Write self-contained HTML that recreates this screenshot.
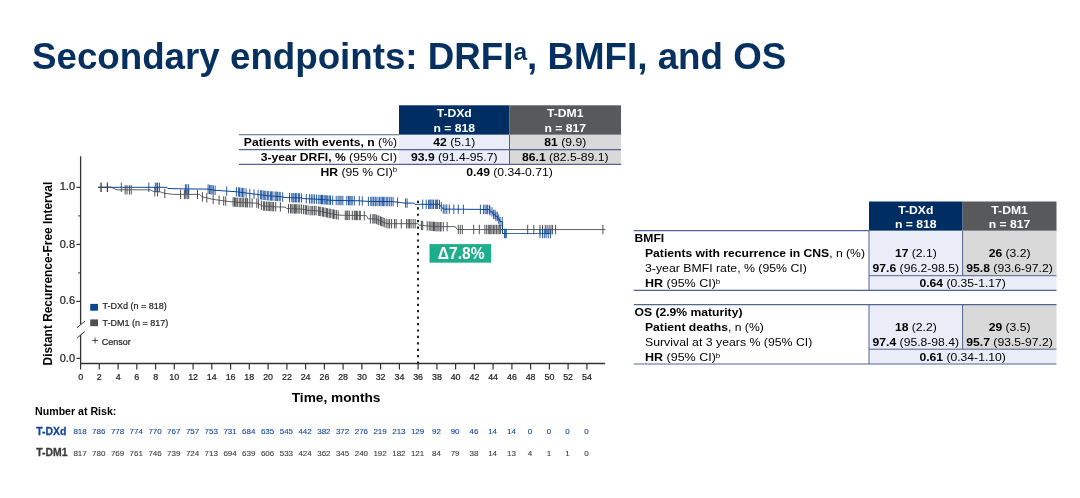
<!DOCTYPE html>
<html lang="en">
<head>
<meta charset="utf-8">
<title>Secondary endpoints: DRFI, BMFI, and OS</title>
<style>
html,body{margin:0;padding:0;background:#fff;}
body{width:1080px;height:498px;overflow:hidden;}
svg{display:block;font-family:"Liberation Sans",Arial,Helvetica,sans-serif;}
</style>
</head>
<body>
<svg width="1080" height="498" viewBox="0 0 1080 498">
<rect width="1080" height="498" fill="#ffffff"/>
<text x="32" y="68.8" font-size="36.72" font-weight="bold" fill="#06305f">Secondary endpoints: DRFI<tspan font-size="24.5" dy="-9.3">a</tspan><tspan dy="9.3">, BMFI, and OS</tspan></text>
<rect x="399" y="105.3" width="110.5" height="29.500000000000014" fill="#002e63"/>
<rect x="509.5" y="105.3" width="111.5" height="29.500000000000014" fill="#58595b"/>
<rect x="399" y="134.8" width="110.5" height="29.599999999999994" fill="#eaedf8"/>
<rect x="509.5" y="134.8" width="111.5" height="29.599999999999994" fill="#d9d9d9"/>
<line x1="239" y1="134.8" x2="399" y2="134.8" stroke="#52648f" stroke-width="1.1"/>
<line x1="239" y1="149.6" x2="621" y2="149.6" stroke="#52648f" stroke-width="1.1"/>
<line x1="239" y1="164.4" x2="621" y2="164.4" stroke="#52648f" stroke-width="1.1"/>
<line x1="509.5" y1="134.8" x2="509.5" y2="164.4" stroke="#52648f" stroke-width="1"/>
<text transform="translate(454.25,117.0) scale(1.105,1)" font-size="11" font-weight="bold" fill="#fff" text-anchor="middle" >T-DXd</text>
<text transform="translate(454.25,132.3) scale(1.105,1)" font-size="11" font-weight="bold" fill="#fff" text-anchor="middle" >n = 818</text>
<text transform="translate(565.25,117.0) scale(1.105,1)" font-size="11" font-weight="bold" fill="#fff" text-anchor="middle" >T-DM1</text>
<text transform="translate(565.25,132.3) scale(1.105,1)" font-size="11" font-weight="bold" fill="#fff" text-anchor="middle" >n = 817</text>
<text transform="translate(397,146.0) scale(1.105,1)" font-size="11" font-weight="normal" fill="#000" text-anchor="end" ><tspan font-weight="bold">Patients with events, n</tspan> (%)</text>
<text transform="translate(397,160.9) scale(1.105,1)" font-size="11" font-weight="normal" fill="#000" text-anchor="end" ><tspan font-weight="bold">3-year DRFI, %</tspan> (95% CI)</text>
<text transform="translate(397,175.8) scale(1.105,1)" font-size="11" font-weight="normal" fill="#000" text-anchor="end" ><tspan font-weight="bold">HR</tspan> (95 % CI)<tspan font-size="7" dy="-3.4">b</tspan></text>
<text transform="translate(454.25,146.0) scale(1.105,1)" font-size="11" font-weight="normal" fill="#000" text-anchor="middle" ><tspan font-weight="bold">42</tspan> (5.1)</text>
<text transform="translate(454.25,160.9) scale(1.105,1)" font-size="11" font-weight="normal" fill="#000" text-anchor="middle" ><tspan font-weight="bold">93.9</tspan> (91.4-95.7)</text>
<text transform="translate(565.25,146.0) scale(1.105,1)" font-size="11" font-weight="normal" fill="#000" text-anchor="middle" ><tspan font-weight="bold">81</tspan> (9.9)</text>
<text transform="translate(565.25,160.9) scale(1.105,1)" font-size="11" font-weight="normal" fill="#000" text-anchor="middle" ><tspan font-weight="bold">86.1</tspan> (82.5-89.1)</text>
<text transform="translate(509.5,175.8) scale(1.105,1)" font-size="11" font-weight="normal" fill="#000" text-anchor="middle" ><tspan font-weight="bold">0.49</tspan> (0.34-0.71)</text>
<path d="M80.6 156.2 V324.3 M80.6 335 V363.5" stroke="#333333" stroke-width="1.3" fill="none"/>
<path d="M76.9 327.7 L84.9 321.2 M76.9 338.2 L84.9 331.4" stroke="#333333" stroke-width="1" fill="none"/>
<line x1="80.0" y1="363.5" x2="605.1" y2="363.5" stroke="#333333" stroke-width="1.55"/>
<line x1="80.6" y1="363.5" x2="80.6" y2="369.5" stroke="#333333" stroke-width="1.2"/>
<text x="80.6" y="380.1" font-size="8.9" font-weight="normal" fill="#1a1a1a" text-anchor="middle" stroke="#1a1a1a" stroke-width="0.2">0</text>
<line x1="99.3" y1="363.5" x2="99.3" y2="369.5" stroke="#333333" stroke-width="1.2"/>
<text x="99.3" y="380.1" font-size="8.9" font-weight="normal" fill="#1a1a1a" text-anchor="middle" stroke="#1a1a1a" stroke-width="0.2">2</text>
<line x1="118.1" y1="363.5" x2="118.1" y2="369.5" stroke="#333333" stroke-width="1.2"/>
<text x="118.1" y="380.1" font-size="8.9" font-weight="normal" fill="#1a1a1a" text-anchor="middle" stroke="#1a1a1a" stroke-width="0.2">4</text>
<line x1="136.8" y1="363.5" x2="136.8" y2="369.5" stroke="#333333" stroke-width="1.2"/>
<text x="136.8" y="380.1" font-size="8.9" font-weight="normal" fill="#1a1a1a" text-anchor="middle" stroke="#1a1a1a" stroke-width="0.2">6</text>
<line x1="155.6" y1="363.5" x2="155.6" y2="369.5" stroke="#333333" stroke-width="1.2"/>
<text x="155.6" y="380.1" font-size="8.9" font-weight="normal" fill="#1a1a1a" text-anchor="middle" stroke="#1a1a1a" stroke-width="0.2">8</text>
<line x1="174.3" y1="363.5" x2="174.3" y2="369.5" stroke="#333333" stroke-width="1.2"/>
<text x="174.3" y="380.1" font-size="8.9" font-weight="normal" fill="#1a1a1a" text-anchor="middle" stroke="#1a1a1a" stroke-width="0.2">10</text>
<line x1="193.1" y1="363.5" x2="193.1" y2="369.5" stroke="#333333" stroke-width="1.2"/>
<text x="193.1" y="380.1" font-size="8.9" font-weight="normal" fill="#1a1a1a" text-anchor="middle" stroke="#1a1a1a" stroke-width="0.2">12</text>
<line x1="211.8" y1="363.5" x2="211.8" y2="369.5" stroke="#333333" stroke-width="1.2"/>
<text x="211.8" y="380.1" font-size="8.9" font-weight="normal" fill="#1a1a1a" text-anchor="middle" stroke="#1a1a1a" stroke-width="0.2">14</text>
<line x1="230.6" y1="363.5" x2="230.6" y2="369.5" stroke="#333333" stroke-width="1.2"/>
<text x="230.6" y="380.1" font-size="8.9" font-weight="normal" fill="#1a1a1a" text-anchor="middle" stroke="#1a1a1a" stroke-width="0.2">16</text>
<line x1="249.3" y1="363.5" x2="249.3" y2="369.5" stroke="#333333" stroke-width="1.2"/>
<text x="249.3" y="380.1" font-size="8.9" font-weight="normal" fill="#1a1a1a" text-anchor="middle" stroke="#1a1a1a" stroke-width="0.2">18</text>
<line x1="268.1" y1="363.5" x2="268.1" y2="369.5" stroke="#333333" stroke-width="1.2"/>
<text x="268.1" y="380.1" font-size="8.9" font-weight="normal" fill="#1a1a1a" text-anchor="middle" stroke="#1a1a1a" stroke-width="0.2">20</text>
<line x1="286.9" y1="363.5" x2="286.9" y2="369.5" stroke="#333333" stroke-width="1.2"/>
<text x="286.9" y="380.1" font-size="8.9" font-weight="normal" fill="#1a1a1a" text-anchor="middle" stroke="#1a1a1a" stroke-width="0.2">22</text>
<line x1="305.6" y1="363.5" x2="305.6" y2="369.5" stroke="#333333" stroke-width="1.2"/>
<text x="305.6" y="380.1" font-size="8.9" font-weight="normal" fill="#1a1a1a" text-anchor="middle" stroke="#1a1a1a" stroke-width="0.2">24</text>
<line x1="324.4" y1="363.5" x2="324.4" y2="369.5" stroke="#333333" stroke-width="1.2"/>
<text x="324.4" y="380.1" font-size="8.9" font-weight="normal" fill="#1a1a1a" text-anchor="middle" stroke="#1a1a1a" stroke-width="0.2">26</text>
<line x1="343.1" y1="363.5" x2="343.1" y2="369.5" stroke="#333333" stroke-width="1.2"/>
<text x="343.1" y="380.1" font-size="8.9" font-weight="normal" fill="#1a1a1a" text-anchor="middle" stroke="#1a1a1a" stroke-width="0.2">28</text>
<line x1="361.9" y1="363.5" x2="361.9" y2="369.5" stroke="#333333" stroke-width="1.2"/>
<text x="361.9" y="380.1" font-size="8.9" font-weight="normal" fill="#1a1a1a" text-anchor="middle" stroke="#1a1a1a" stroke-width="0.2">30</text>
<line x1="380.6" y1="363.5" x2="380.6" y2="369.5" stroke="#333333" stroke-width="1.2"/>
<text x="380.6" y="380.1" font-size="8.9" font-weight="normal" fill="#1a1a1a" text-anchor="middle" stroke="#1a1a1a" stroke-width="0.2">32</text>
<line x1="399.4" y1="363.5" x2="399.4" y2="369.5" stroke="#333333" stroke-width="1.2"/>
<text x="399.4" y="380.1" font-size="8.9" font-weight="normal" fill="#1a1a1a" text-anchor="middle" stroke="#1a1a1a" stroke-width="0.2">34</text>
<line x1="418.1" y1="363.5" x2="418.1" y2="369.5" stroke="#333333" stroke-width="1.2"/>
<text x="418.1" y="380.1" font-size="8.9" font-weight="normal" fill="#1a1a1a" text-anchor="middle" stroke="#1a1a1a" stroke-width="0.2">36</text>
<line x1="436.9" y1="363.5" x2="436.9" y2="369.5" stroke="#333333" stroke-width="1.2"/>
<text x="436.9" y="380.1" font-size="8.9" font-weight="normal" fill="#1a1a1a" text-anchor="middle" stroke="#1a1a1a" stroke-width="0.2">38</text>
<line x1="455.6" y1="363.5" x2="455.6" y2="369.5" stroke="#333333" stroke-width="1.2"/>
<text x="455.6" y="380.1" font-size="8.9" font-weight="normal" fill="#1a1a1a" text-anchor="middle" stroke="#1a1a1a" stroke-width="0.2">40</text>
<line x1="474.4" y1="363.5" x2="474.4" y2="369.5" stroke="#333333" stroke-width="1.2"/>
<text x="474.4" y="380.1" font-size="8.9" font-weight="normal" fill="#1a1a1a" text-anchor="middle" stroke="#1a1a1a" stroke-width="0.2">42</text>
<line x1="493.1" y1="363.5" x2="493.1" y2="369.5" stroke="#333333" stroke-width="1.2"/>
<text x="493.1" y="380.1" font-size="8.9" font-weight="normal" fill="#1a1a1a" text-anchor="middle" stroke="#1a1a1a" stroke-width="0.2">44</text>
<line x1="511.9" y1="363.5" x2="511.9" y2="369.5" stroke="#333333" stroke-width="1.2"/>
<text x="511.9" y="380.1" font-size="8.9" font-weight="normal" fill="#1a1a1a" text-anchor="middle" stroke="#1a1a1a" stroke-width="0.2">46</text>
<line x1="530.6" y1="363.5" x2="530.6" y2="369.5" stroke="#333333" stroke-width="1.2"/>
<text x="530.6" y="380.1" font-size="8.9" font-weight="normal" fill="#1a1a1a" text-anchor="middle" stroke="#1a1a1a" stroke-width="0.2">48</text>
<line x1="549.4" y1="363.5" x2="549.4" y2="369.5" stroke="#333333" stroke-width="1.2"/>
<text x="549.4" y="380.1" font-size="8.9" font-weight="normal" fill="#1a1a1a" text-anchor="middle" stroke="#1a1a1a" stroke-width="0.2">50</text>
<line x1="568.1" y1="363.5" x2="568.1" y2="369.5" stroke="#333333" stroke-width="1.2"/>
<text x="568.1" y="380.1" font-size="8.9" font-weight="normal" fill="#1a1a1a" text-anchor="middle" stroke="#1a1a1a" stroke-width="0.2">52</text>
<line x1="586.9" y1="363.5" x2="586.9" y2="369.5" stroke="#333333" stroke-width="1.2"/>
<text x="586.9" y="380.1" font-size="8.9" font-weight="normal" fill="#1a1a1a" text-anchor="middle" stroke="#1a1a1a" stroke-width="0.2">54</text>
<line x1="76.4" y1="187.4" x2="80.6" y2="187.4" stroke="#333333" stroke-width="1.2"/>
<text transform="translate(75.0,190.0) scale(1.08,1)" font-size="10.2" font-weight="normal" fill="#1a1a1a" text-anchor="end" stroke="#1a1a1a" stroke-width="0.2">1.0</text>
<line x1="76.4" y1="244.4" x2="80.6" y2="244.4" stroke="#333333" stroke-width="1.2"/>
<text transform="translate(75.0,247.7) scale(1.08,1)" font-size="10.2" font-weight="normal" fill="#1a1a1a" text-anchor="end" stroke="#1a1a1a" stroke-width="0.2">0.8</text>
<line x1="76.4" y1="301.4" x2="80.6" y2="301.4" stroke="#333333" stroke-width="1.2"/>
<text transform="translate(75.0,304.4) scale(1.08,1)" font-size="10.2" font-weight="normal" fill="#1a1a1a" text-anchor="end" stroke="#1a1a1a" stroke-width="0.2">0.6</text>
<line x1="78.1" y1="215.9" x2="80.6" y2="215.9" stroke="#333333" stroke-width="1"/>
<line x1="78.1" y1="272.9" x2="80.6" y2="272.9" stroke="#333333" stroke-width="1"/>
<line x1="76.4" y1="358.4" x2="80.6" y2="358.4" stroke="#333333" stroke-width="1.2"/>
<text transform="translate(75.0,361.5) scale(1.08,1)" font-size="10.2" font-weight="normal" fill="#1a1a1a" text-anchor="end" stroke="#1a1a1a" stroke-width="0.2">0.0</text>
<text transform="translate(51.7,273.6) rotate(-90) scale(1,1.10)" font-size="11.9" font-weight="bold" fill="#000" text-anchor="middle">Distant Recurrence-Free Interval</text>
<text transform="translate(336.1,402.2) scale(1.015,1)" font-size="13.5" font-weight="bold" fill="#000" text-anchor="middle" >Time, months</text>
<path d="M98.1 187.3 L111.3 187.3 L116.9 189.8 L150.2 189.8 L153.9 191.7 L160.4 191.9 L164.0 193.2 L173.3 194.4 L199.8 194.4 L202.1 196.8 L212.8 199.3 L223.9 200.9 L236.9 202.3 L257.2 203.2 L262.8 206.0 L277.6 206.9 L285.0 207.1 L287.0 208.6 L301.6 209.1 L310.1 210.6 L316.1 210.6 L338.2 215.1 L345.0 215.3 L366.3 215.6 L368.4 219.0 L375.0 218.8 L387.0 223.7 L418.0 223.7 L419.2 225.2 L437.2 226.7 L455.3 226.6 L457.3 229.5 L605.5 229.6" stroke="#4f5052" stroke-width="0.9" fill="none"/>
<path d="M101.1 182.6v9.4 M125.2 185.1v9.4 M127.0 185.1v9.4 M129.4 185.1v9.4 M131.2 185.1v9.4 M154.8 187.0v9.4 M157.6 187.1v9.4 M164.8 188.6v9.4 M180.6 189.7v9.4 M184.4 189.7v9.4 M185.8 189.7v9.4 M187.2 189.7v9.4 M188.7 189.7v9.4 M197.5 189.7v9.4 M202.4 192.2v9.4 M206.8 193.2v9.4 M213.2 194.7v9.4 M219.1 195.5v9.4 M223.7 196.2v9.4 M225.7 196.4v9.4 M233.1 197.2v9.4 M234.5 197.3v9.4 M235.3 197.4v9.4 M236.9 197.6v9.4 M237.8 197.6v9.4 M239.8 197.7v9.4 M240.8 197.8v9.4 M242.2 197.8v9.4 M243.7 197.9v9.4 M245.4 198.0v9.4 M246.2 198.0v9.4 M247.6 198.1v9.4 M249.8 198.2v9.4 M252.1 198.3v9.4 M256.8 198.5v9.4 M258.6 199.2v9.4 M261.4 200.6v9.4 M263.4 201.3v9.4 M264.6 201.4v9.4 M266.3 201.5v9.4 M267.0 201.6v9.4 M268.8 201.7v9.4 M269.7 201.7v9.4 M270.9 201.8v9.4 M272.2 201.9v9.4 M273.6 202.0v9.4 M275.7 202.1v9.4 M280.4 202.3v9.4 M288.5 204.0v9.4 M290.5 204.0v9.4 M291.9 204.1v9.4 M293.0 204.1v9.4 M294.4 204.2v9.4 M295.4 204.2v9.4 M296.7 204.2v9.4 M298.1 204.3v9.4 M299.8 204.3v9.4 M301.6 204.4v9.4 M303.6 204.8v9.4 M305.3 205.1v9.4 M306.4 205.2v9.4 M308.1 205.5v9.4 M310.1 205.9v9.4 M311.9 205.9v9.4 M312.8 205.9v9.4 M314.6 205.9v9.4 M316.1 205.9v9.4 M318.4 206.4v9.4 M319.7 206.6v9.4 M320.8 206.9v9.4 M322.6 207.2v9.4 M323.4 207.4v9.4 M325.0 207.7v9.4 M326.6 208.0v9.4 M327.6 208.2v9.4 M329.2 208.6v9.4 M330.3 208.8v9.4 M332.1 209.2v9.4 M333.5 209.5v9.4 M334.8 209.7v9.4 M336.4 210.0v9.4 M338.2 210.4v9.4 M345.3 210.6v9.4 M346.8 210.6v9.4 M347.8 210.6v9.4 M349.3 210.7v9.4 M352.3 210.7v9.4 M354.3 210.7v9.4 M355.2 210.7v9.4 M356.5 210.8v9.4 M357.3 210.8v9.4 M359.3 210.8v9.4 M360.3 210.8v9.4 M364.3 210.9v9.4 M370.4 214.2v9.4 M372.8 214.2v9.4 M374.0 214.1v9.4 M375.0 214.1v9.4 M376.4 214.7v9.4 M378.0 215.3v9.4 M378.9 215.7v9.4 M380.5 216.4v9.4 M381.7 216.8v9.4 M383.0 217.4v9.4 M384.3 217.9v9.4 M386.2 218.7v9.4 M388.0 219.0v9.4 M389.6 219.0v9.4 M391.6 219.0v9.4 M394.6 219.0v9.4 M396.1 219.0v9.4 M401.3 219.0v9.4 M406.6 219.0v9.4 M408.2 219.0v9.4 M409.6 219.0v9.4 M411.1 219.0v9.4 M413.2 219.0v9.4 M415.2 219.0v9.4 M421.4 220.7v9.4 M422.7 220.8v9.4 M427.2 221.2v9.4 M429.2 221.3v9.4 M430.8 221.5v9.4 M432.1 221.6v9.4 M433.5 221.7v9.4 M434.4 221.8v9.4 M435.9 221.9v9.4 M437.2 222.0v9.4 M438.9 222.0v9.4 M440.3 222.0v9.4 M441.1 222.0v9.4 M443.3 222.0v9.4 M447.1 221.9v9.4 M458.3 224.8v9.4 M460.3 224.8v9.4 M462.3 224.8v9.4 M473.7 224.8v9.4 M479.3 224.8v9.4 M484.9 224.8v9.4 M486.7 224.8v9.4 M488.3 224.8v9.4 M489.7 224.8v9.4 M490.8 224.8v9.4 M492.0 224.8v9.4 M493.6 224.8v9.4 M494.9 224.8v9.4 M496.4 224.8v9.4 M498.0 224.8v9.4 M499.2 224.8v9.4 M500.4 224.8v9.4 M502.4 224.8v9.4 M527.7 224.8v9.4 M533.8 224.9v9.4 M540.0 224.9v9.4 M542.5 224.9v9.4 M545.3 224.9v9.4 M547.1 224.9v9.4 M549.1 224.9v9.4 M551.0 224.9v9.4 M552.6 224.9v9.4 M555.6 224.9v9.4 M602.9 224.9v9.4" stroke="#4f5052" stroke-width="1.0" fill="none" opacity="1"/>
<path d="M98.1 187.3 L166.9 187.3 L167.8 188.5 L185.0 188.9 L208.1 189.1 L215.0 190.3 L223.9 190.9 L235.9 191.7 L249.8 193.5 L268.3 195.8 L280.0 196.6 L286.0 197.6 L301.6 197.9 L303.1 198.6 L316.6 199.2 L332.7 200.4 L359.3 200.8 L368.4 201.4 L393.1 201.6 L400.1 202.5 L405.0 203.1 L413.7 203.1 L415.2 204.3 L439.3 204.3 L443.3 209.1 L480.0 209.4 L489.4 209.5 L490.5 211.9 L492.5 211.9 L493.0 214.4 L495.0 214.4 L495.6 216.4 L497.4 216.4 L497.9 219.0 L499.4 219.0 L499.9 221.6 L502.3 221.6 L502.5 233.5 L504.0 233.5" stroke="#0d4595" stroke-width="1.0" fill="none"/>
<path d="M504 233.5H550.4" stroke="#0d4595" stroke-width="0.8" fill="none"/>
<path d="M107.4 182.6v9.4 M121.3 182.6v9.4 M148.8 182.6v9.4 M155.3 182.6v9.4 M156.9 182.6v9.4 M157.6 182.6v9.4 M159.4 182.6v9.4 M185.4 184.2v9.4 M186.8 184.2v9.4 M188.6 184.2v9.4 M208.1 184.4v9.4 M209.6 184.7v9.4 M210.8 184.9v9.4 M212.0 185.1v9.4 M213.3 185.3v9.4 M215.1 185.6v9.4 M226.7 186.4v9.4 M236.4 187.1v9.4 M238.6 187.3v9.4 M239.6 187.5v9.4 M241.1 187.7v9.4 M242.5 187.9v9.4 M243.9 188.0v9.4 M246.1 188.3v9.4 M249.8 188.8v9.4 M254.0 189.3v9.4 M258.1 189.8v9.4 M260.6 190.1v9.4 M261.7 190.3v9.4 M263.2 190.5v9.4 M264.3 190.6v9.4 M265.8 190.8v9.4 M267.4 191.0v9.4 M268.8 191.1v9.4 M270.6 191.3v9.4 M271.6 191.3v9.4 M272.9 191.4v9.4 M275.1 191.6v9.4 M276.2 191.6v9.4 M277.4 191.7v9.4 M279.1 191.8v9.4 M280.2 191.9v9.4 M282.7 192.3v9.4 M289.5 193.0v9.4 M291.8 193.0v9.4 M293.0 193.0v9.4 M294.0 193.1v9.4 M295.5 193.1v9.4 M296.7 193.1v9.4 M298.4 193.1v9.4 M299.6 193.2v9.4 M301.6 193.2v9.4 M306.3 194.0v9.4 M309.6 194.2v9.4 M311.3 194.3v9.4 M312.9 194.3v9.4 M314.6 194.4v9.4 M316.6 194.5v9.4 M318.8 194.7v9.4 M320.2 194.8v9.4 M321.5 194.9v9.4 M322.5 194.9v9.4 M324.0 195.1v9.4 M325.2 195.1v9.4 M326.3 195.2v9.4 M327.7 195.3v9.4 M329.2 195.4v9.4 M330.5 195.5v9.4 M332.7 195.7v9.4 M336.2 195.8v9.4 M338.1 195.8v9.4 M339.8 195.8v9.4 M341.1 195.8v9.4 M342.8 195.9v9.4 M346.8 195.9v9.4 M348.5 195.9v9.4 M349.8 196.0v9.4 M351.0 196.0v9.4 M352.2 196.0v9.4 M354.3 196.0v9.4 M359.3 196.1v9.4 M362.3 196.3v9.4 M368.4 196.7v9.4 M370.8 196.7v9.4 M372.0 196.7v9.4 M373.6 196.7v9.4 M375.2 196.8v9.4 M376.1 196.8v9.4 M378.0 196.8v9.4 M379.6 196.8v9.4 M381.0 196.8v9.4 M382.4 196.8v9.4 M383.6 196.8v9.4 M384.9 196.8v9.4 M386.8 196.8v9.4 M387.9 196.9v9.4 M389.7 196.9v9.4 M391.3 196.9v9.4 M393.1 196.9v9.4 M397.6 197.5v9.4 M405.6 198.4v9.4 M407.1 198.4v9.4 M422.7 199.6v9.4 M426.2 199.6v9.4 M428.6 199.6v9.4 M429.8 199.6v9.4 M430.8 199.6v9.4 M432.1 199.6v9.4 M433.5 199.6v9.4 M435.4 199.6v9.4 M436.7 199.6v9.4 M437.6 199.6v9.4 M439.5 199.8v9.4 M441.3 202.0v9.4 M443.3 204.4v9.4 M445.0 204.4v9.4 M446.8 204.4v9.4 M449.3 204.4v9.4 M453.8 204.5v9.4 M458.3 204.5v9.4 M463.4 204.6v9.4 M480.4 204.7v9.4 M483.6 204.7v9.4 M485.1 204.8v9.4 M486.8 204.8v9.4 M487.7 204.8v9.4 M489.4 204.8v9.4 M490.0 206.1v9.4 M492.0 207.2v9.4 M493.6 209.7v9.4 M495.0 209.7v9.4 M495.9 211.7v9.4 M497.3 211.7v9.4 M498.7 214.3v9.4 M500.0 216.9v9.4 M502.2 216.9v9.4 M504.4 228.8v9.4 M505.3 228.8v9.4 M506.3 228.8v9.4 M540.0 228.8v9.4 M542.5 228.8v9.4 M544.3 228.8v9.4 M546.1 228.8v9.4 M548.2 228.8v9.4 M550.4 228.8v9.4" stroke="#0d4595" stroke-width="0.95" fill="none" opacity="0.92"/>
<path d="M98.1 187.3H110.5 M101.1 182.6v9.4" stroke="#4f5052" stroke-width="1" fill="none"/>
<path d="M107.4 182.6v9.4" stroke="#0d4595" stroke-width="1" fill="none"/>
<line x1="418" y1="200.8" x2="418" y2="363.5" stroke="#111" stroke-width="1.9" stroke-dasharray="2.2 4.23"/>
<rect x="429.5" y="244.1" width="61.7" height="18.6" fill="#1eae8c"/>
<text x="461.2" y="258.9" font-size="15.6" font-weight="bold" fill="#fff" text-anchor="middle" >Δ7.8%</text>
<rect x="90.2" y="303.9" width="7.8" height="6.8" fill="#0d4595"/>
<rect x="90.2" y="319.4" width="7.8" height="6.8" fill="#4f5052"/>
<text x="102.5" y="309.3" font-size="9" font-weight="normal" fill="#222" text-anchor="start" stroke="#222" stroke-width="0.2">T-DXd (n = 818)</text>
<text x="102.5" y="326.1" font-size="9" font-weight="normal" fill="#222" text-anchor="start" stroke="#222" stroke-width="0.2">T-DM1 (n = 817)</text>
<path d="M92.2 340.5h5.8M95.1 337.6v5.8" stroke="#222" stroke-width="0.8" fill="none"/>
<text x="101.8" y="345.4" font-size="9" font-weight="normal" fill="#222" text-anchor="start" stroke="#222" stroke-width="0.2">Censor</text>
<text x="35.1" y="414.6" font-size="10.6" font-weight="bold" fill="#000" text-anchor="start" >Number at Risk:</text>
<text x="36.3" y="435.3" font-size="10.45" font-weight="bold" fill="#14469a" text-anchor="start" stroke="#14469a" stroke-width="0.3">T-DXd</text>
<text x="36.3" y="456.1" font-size="10.45" font-weight="bold" fill="#3c3c3c" text-anchor="start" stroke="#3c3c3c" stroke-width="0.3">T-DM1</text>
<text x="80.1" y="434.3" font-size="8" font-weight="normal" fill="#14499b" text-anchor="middle" stroke="#14499b" stroke-width="0.12">818</text>
<text x="80.1" y="456.0" font-size="8" font-weight="normal" fill="#3f3f3f" text-anchor="middle" stroke="#3f3f3f" stroke-width="0.12">817</text>
<text x="98.8" y="434.3" font-size="8" font-weight="normal" fill="#14499b" text-anchor="middle" stroke="#14499b" stroke-width="0.12">786</text>
<text x="98.8" y="456.0" font-size="8" font-weight="normal" fill="#3f3f3f" text-anchor="middle" stroke="#3f3f3f" stroke-width="0.12">780</text>
<text x="117.6" y="434.3" font-size="8" font-weight="normal" fill="#14499b" text-anchor="middle" stroke="#14499b" stroke-width="0.12">778</text>
<text x="117.6" y="456.0" font-size="8" font-weight="normal" fill="#3f3f3f" text-anchor="middle" stroke="#3f3f3f" stroke-width="0.12">769</text>
<text x="136.3" y="434.3" font-size="8" font-weight="normal" fill="#14499b" text-anchor="middle" stroke="#14499b" stroke-width="0.12">774</text>
<text x="136.3" y="456.0" font-size="8" font-weight="normal" fill="#3f3f3f" text-anchor="middle" stroke="#3f3f3f" stroke-width="0.12">761</text>
<text x="155.1" y="434.3" font-size="8" font-weight="normal" fill="#14499b" text-anchor="middle" stroke="#14499b" stroke-width="0.12">770</text>
<text x="155.1" y="456.0" font-size="8" font-weight="normal" fill="#3f3f3f" text-anchor="middle" stroke="#3f3f3f" stroke-width="0.12">746</text>
<text x="173.8" y="434.3" font-size="8" font-weight="normal" fill="#14499b" text-anchor="middle" stroke="#14499b" stroke-width="0.12">767</text>
<text x="173.8" y="456.0" font-size="8" font-weight="normal" fill="#3f3f3f" text-anchor="middle" stroke="#3f3f3f" stroke-width="0.12">739</text>
<text x="192.6" y="434.3" font-size="8" font-weight="normal" fill="#14499b" text-anchor="middle" stroke="#14499b" stroke-width="0.12">757</text>
<text x="192.6" y="456.0" font-size="8" font-weight="normal" fill="#3f3f3f" text-anchor="middle" stroke="#3f3f3f" stroke-width="0.12">724</text>
<text x="211.3" y="434.3" font-size="8" font-weight="normal" fill="#14499b" text-anchor="middle" stroke="#14499b" stroke-width="0.12">753</text>
<text x="211.3" y="456.0" font-size="8" font-weight="normal" fill="#3f3f3f" text-anchor="middle" stroke="#3f3f3f" stroke-width="0.12">713</text>
<text x="230.1" y="434.3" font-size="8" font-weight="normal" fill="#14499b" text-anchor="middle" stroke="#14499b" stroke-width="0.12">731</text>
<text x="230.1" y="456.0" font-size="8" font-weight="normal" fill="#3f3f3f" text-anchor="middle" stroke="#3f3f3f" stroke-width="0.12">694</text>
<text x="248.8" y="434.3" font-size="8" font-weight="normal" fill="#14499b" text-anchor="middle" stroke="#14499b" stroke-width="0.12">684</text>
<text x="248.8" y="456.0" font-size="8" font-weight="normal" fill="#3f3f3f" text-anchor="middle" stroke="#3f3f3f" stroke-width="0.12">639</text>
<text x="267.6" y="434.3" font-size="8" font-weight="normal" fill="#14499b" text-anchor="middle" stroke="#14499b" stroke-width="0.12">635</text>
<text x="267.6" y="456.0" font-size="8" font-weight="normal" fill="#3f3f3f" text-anchor="middle" stroke="#3f3f3f" stroke-width="0.12">606</text>
<text x="286.4" y="434.3" font-size="8" font-weight="normal" fill="#14499b" text-anchor="middle" stroke="#14499b" stroke-width="0.12">545</text>
<text x="286.4" y="456.0" font-size="8" font-weight="normal" fill="#3f3f3f" text-anchor="middle" stroke="#3f3f3f" stroke-width="0.12">533</text>
<text x="305.1" y="434.3" font-size="8" font-weight="normal" fill="#14499b" text-anchor="middle" stroke="#14499b" stroke-width="0.12">442</text>
<text x="305.1" y="456.0" font-size="8" font-weight="normal" fill="#3f3f3f" text-anchor="middle" stroke="#3f3f3f" stroke-width="0.12">424</text>
<text x="323.9" y="434.3" font-size="8" font-weight="normal" fill="#14499b" text-anchor="middle" stroke="#14499b" stroke-width="0.12">382</text>
<text x="323.9" y="456.0" font-size="8" font-weight="normal" fill="#3f3f3f" text-anchor="middle" stroke="#3f3f3f" stroke-width="0.12">362</text>
<text x="342.6" y="434.3" font-size="8" font-weight="normal" fill="#14499b" text-anchor="middle" stroke="#14499b" stroke-width="0.12">372</text>
<text x="342.6" y="456.0" font-size="8" font-weight="normal" fill="#3f3f3f" text-anchor="middle" stroke="#3f3f3f" stroke-width="0.12">345</text>
<text x="361.4" y="434.3" font-size="8" font-weight="normal" fill="#14499b" text-anchor="middle" stroke="#14499b" stroke-width="0.12">276</text>
<text x="361.4" y="456.0" font-size="8" font-weight="normal" fill="#3f3f3f" text-anchor="middle" stroke="#3f3f3f" stroke-width="0.12">240</text>
<text x="380.1" y="434.3" font-size="8" font-weight="normal" fill="#14499b" text-anchor="middle" stroke="#14499b" stroke-width="0.12">219</text>
<text x="380.1" y="456.0" font-size="8" font-weight="normal" fill="#3f3f3f" text-anchor="middle" stroke="#3f3f3f" stroke-width="0.12">192</text>
<text x="398.9" y="434.3" font-size="8" font-weight="normal" fill="#14499b" text-anchor="middle" stroke="#14499b" stroke-width="0.12">213</text>
<text x="398.9" y="456.0" font-size="8" font-weight="normal" fill="#3f3f3f" text-anchor="middle" stroke="#3f3f3f" stroke-width="0.12">182</text>
<text x="417.6" y="434.3" font-size="8" font-weight="normal" fill="#14499b" text-anchor="middle" stroke="#14499b" stroke-width="0.12">129</text>
<text x="417.6" y="456.0" font-size="8" font-weight="normal" fill="#3f3f3f" text-anchor="middle" stroke="#3f3f3f" stroke-width="0.12">121</text>
<text x="436.4" y="434.3" font-size="8" font-weight="normal" fill="#14499b" text-anchor="middle" stroke="#14499b" stroke-width="0.12">92</text>
<text x="436.4" y="456.0" font-size="8" font-weight="normal" fill="#3f3f3f" text-anchor="middle" stroke="#3f3f3f" stroke-width="0.12">84</text>
<text x="455.1" y="434.3" font-size="8" font-weight="normal" fill="#14499b" text-anchor="middle" stroke="#14499b" stroke-width="0.12">90</text>
<text x="455.1" y="456.0" font-size="8" font-weight="normal" fill="#3f3f3f" text-anchor="middle" stroke="#3f3f3f" stroke-width="0.12">79</text>
<text x="473.9" y="434.3" font-size="8" font-weight="normal" fill="#14499b" text-anchor="middle" stroke="#14499b" stroke-width="0.12">46</text>
<text x="473.9" y="456.0" font-size="8" font-weight="normal" fill="#3f3f3f" text-anchor="middle" stroke="#3f3f3f" stroke-width="0.12">38</text>
<text x="492.6" y="434.3" font-size="8" font-weight="normal" fill="#14499b" text-anchor="middle" stroke="#14499b" stroke-width="0.12">14</text>
<text x="492.6" y="456.0" font-size="8" font-weight="normal" fill="#3f3f3f" text-anchor="middle" stroke="#3f3f3f" stroke-width="0.12">14</text>
<text x="511.4" y="434.3" font-size="8" font-weight="normal" fill="#14499b" text-anchor="middle" stroke="#14499b" stroke-width="0.12">14</text>
<text x="511.4" y="456.0" font-size="8" font-weight="normal" fill="#3f3f3f" text-anchor="middle" stroke="#3f3f3f" stroke-width="0.12">13</text>
<text x="530.1" y="434.3" font-size="8" font-weight="normal" fill="#14499b" text-anchor="middle" stroke="#14499b" stroke-width="0.12">0</text>
<text x="530.1" y="456.0" font-size="8" font-weight="normal" fill="#3f3f3f" text-anchor="middle" stroke="#3f3f3f" stroke-width="0.12">4</text>
<text x="548.9" y="434.3" font-size="8" font-weight="normal" fill="#14499b" text-anchor="middle" stroke="#14499b" stroke-width="0.12">0</text>
<text x="548.9" y="456.0" font-size="8" font-weight="normal" fill="#3f3f3f" text-anchor="middle" stroke="#3f3f3f" stroke-width="0.12">1</text>
<text x="567.6" y="434.3" font-size="8" font-weight="normal" fill="#14499b" text-anchor="middle" stroke="#14499b" stroke-width="0.12">0</text>
<text x="567.6" y="456.0" font-size="8" font-weight="normal" fill="#3f3f3f" text-anchor="middle" stroke="#3f3f3f" stroke-width="0.12">1</text>
<text x="586.4" y="434.3" font-size="8" font-weight="normal" fill="#14499b" text-anchor="middle" stroke="#14499b" stroke-width="0.12">0</text>
<text x="586.4" y="456.0" font-size="8" font-weight="normal" fill="#3f3f3f" text-anchor="middle" stroke="#3f3f3f" stroke-width="0.12">0</text>
<rect x="869.0" y="201.5" width="93.60000000000002" height="29.400000000000006" fill="#002e63"/>
<rect x="962.6" y="201.5" width="93.89999999999998" height="29.400000000000006" fill="#58595b"/>
<text transform="translate(915.8,213.7) scale(1.105,1)" font-size="11" font-weight="bold" fill="#fff" text-anchor="middle" >T-DXd</text>
<text transform="translate(915.8,228.3) scale(1.105,1)" font-size="11" font-weight="bold" fill="#fff" text-anchor="middle" >n = 818</text>
<text transform="translate(1009.55,213.7) scale(1.105,1)" font-size="11" font-weight="bold" fill="#fff" text-anchor="middle" >T-DM1</text>
<text transform="translate(1009.55,228.3) scale(1.105,1)" font-size="11" font-weight="bold" fill="#fff" text-anchor="middle" >n = 817</text>
<rect x="869.0" y="230.7" width="93.60000000000002" height="59.60000000000002" fill="#eaedf8"/>
<rect x="962.6" y="230.7" width="93.89999999999998" height="45.0" fill="#d9d9d9"/>
<rect x="962.6" y="275.7" width="93.89999999999998" height="14.600000000000023" fill="#eaedf8"/>
<line x1="633.7" y1="230.7" x2="869.0" y2="230.7" stroke="#52648f" stroke-width="1.2"/>
<line x1="633.7" y1="290.3" x2="1056.5" y2="290.3" stroke="#52648f" stroke-width="1.2"/>
<line x1="869.0" y1="275.7" x2="1056.5" y2="275.7" stroke="#52648f" stroke-width="1"/>
<line x1="869.0" y1="230.7" x2="869.0" y2="290.3" stroke="#52648f" stroke-width="1"/>
<line x1="962.6" y1="230.7" x2="962.6" y2="275.7" stroke="#52648f" stroke-width="1"/>
<text transform="translate(634.5,242.39999999999998) scale(1.105,1)" font-size="11" font-weight="bold" fill="#000" text-anchor="start" >BMFI</text>
<text transform="translate(645,256.9) scale(1.105,1)" font-size="11" font-weight="normal" fill="#000" text-anchor="start" ><tspan font-weight="bold">Patients with recurrence in CNS</tspan>, n (%)</text>
<text transform="translate(645,272.0) scale(1.11826,1)" font-size="11" font-weight="normal" fill="#000" text-anchor="start" >3-year BMFI rate, % (95% CI)</text>
<text transform="translate(645,287.0) scale(1.13815,1)" font-size="11" font-weight="normal" fill="#000" text-anchor="start" ><tspan font-weight="bold">HR</tspan> (95% CI)<tspan font-size="7" dy="-3.4">b</tspan></text>
<text transform="translate(915.8,256.9) scale(1.105,1)" font-size="11" font-weight="normal" fill="#000" text-anchor="middle" ><tspan font-weight="bold">17</tspan> (2.1)</text>
<text transform="translate(1009.55,256.9) scale(1.105,1)" font-size="11" font-weight="normal" fill="#000" text-anchor="middle" ><tspan font-weight="bold">26</tspan> (3.2)</text>
<text transform="translate(915.8,272.0) scale(1.105,1)" font-size="11" font-weight="normal" fill="#000" text-anchor="middle" ><tspan font-weight="bold">97.6</tspan> (96.2-98.5)</text>
<text transform="translate(1009.55,272.0) scale(1.105,1)" font-size="11" font-weight="normal" fill="#000" text-anchor="middle" ><tspan font-weight="bold">95.8</tspan> (93.6-97.2)</text>
<text transform="translate(962.6,287.0) scale(1.105,1)" font-size="11" font-weight="normal" fill="#000" text-anchor="middle" ><tspan font-weight="bold">0.64</tspan> (0.35-1.17)</text>
<rect x="869.0" y="304.6" width="93.60000000000002" height="59.39999999999998" fill="#eaedf8"/>
<rect x="962.6" y="304.6" width="93.89999999999998" height="44.599999999999966" fill="#d9d9d9"/>
<rect x="962.6" y="349.2" width="93.89999999999998" height="14.800000000000011" fill="#eaedf8"/>
<line x1="633.7" y1="304.6" x2="1056.5" y2="304.6" stroke="#52648f" stroke-width="1.2"/>
<line x1="633.7" y1="364.0" x2="1056.5" y2="364.0" stroke="#52648f" stroke-width="1.2"/>
<line x1="869.0" y1="349.2" x2="1056.5" y2="349.2" stroke="#52648f" stroke-width="1"/>
<line x1="869.0" y1="304.6" x2="869.0" y2="364.0" stroke="#52648f" stroke-width="1"/>
<line x1="962.6" y1="304.6" x2="962.6" y2="349.2" stroke="#52648f" stroke-width="1"/>
<text transform="translate(634.5,316.3) scale(1.105,1)" font-size="11" font-weight="bold" fill="#000" text-anchor="start" >OS (2.9% maturity)</text>
<text transform="translate(645,330.8) scale(1.105,1)" font-size="11" font-weight="normal" fill="#000" text-anchor="start" ><tspan font-weight="bold">Patient deaths</tspan>, n (%)</text>
<text transform="translate(645,345.90000000000003) scale(1.11826,1)" font-size="11" font-weight="normal" fill="#000" text-anchor="start" >Survival at 3 years % (95% CI)</text>
<text transform="translate(645,360.90000000000003) scale(1.13815,1)" font-size="11" font-weight="normal" fill="#000" text-anchor="start" ><tspan font-weight="bold">HR</tspan> (95% CI)<tspan font-size="7" dy="-3.4">b</tspan></text>
<text transform="translate(915.8,330.8) scale(1.105,1)" font-size="11" font-weight="normal" fill="#000" text-anchor="middle" ><tspan font-weight="bold">18</tspan> (2.2)</text>
<text transform="translate(1009.55,330.8) scale(1.105,1)" font-size="11" font-weight="normal" fill="#000" text-anchor="middle" ><tspan font-weight="bold">29</tspan> (3.5)</text>
<text transform="translate(915.8,345.90000000000003) scale(1.105,1)" font-size="11" font-weight="normal" fill="#000" text-anchor="middle" ><tspan font-weight="bold">97.4</tspan> (95.8-98.4)</text>
<text transform="translate(1009.55,345.90000000000003) scale(1.105,1)" font-size="11" font-weight="normal" fill="#000" text-anchor="middle" ><tspan font-weight="bold">95.7</tspan> (93.5-97.2)</text>
<text transform="translate(962.6,360.90000000000003) scale(1.105,1)" font-size="11" font-weight="normal" fill="#000" text-anchor="middle" ><tspan font-weight="bold">0.61</tspan> (0.34-1.10)</text>
</svg>
</body>
</html>
